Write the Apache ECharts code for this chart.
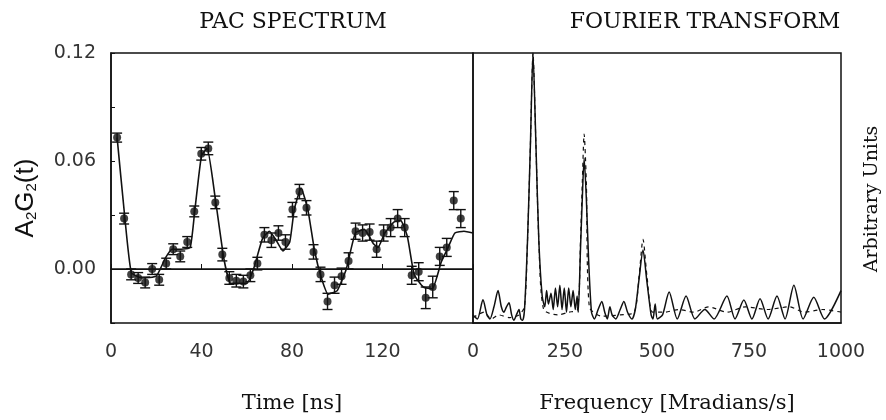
<!DOCTYPE html>
<html>
<head>
<meta charset="utf-8">
<script src="https://cdn.jsdelivr.net/npm/echarts@6/dist/echarts.min.js"></script>
<style>
  html, body { margin: 0; padding: 0; background: #fff; }
  #chart { width: 886px; height: 420px; }
</style>
</head>
<body>
<div id="chart"></div>
<script>
// PAC spectrum: measured points (time in ns) with error bars
const pacTime = [2.7, 5.8, 8.9, 12.0, 15.1, 18.2, 21.3, 24.4, 27.5, 30.6,
  33.7, 36.8, 39.9, 43.0, 46.1, 49.2, 52.3, 55.4, 58.5, 61.6,
  64.7, 67.8, 70.9, 74.0, 77.1, 80.2, 83.3, 86.4, 89.5, 92.6,
  95.7, 98.8, 101.9, 105.0, 108.1, 111.2, 114.3, 117.4, 120.5, 123.6,
  126.7, 129.8, 132.9, 136.0, 139.1, 142.2, 145.3, 148.4, 151.5, 154.6];
const pacValue = [0.073, 0.028, -0.003, -0.005, -0.0075, 0.000, -0.006, 0.003, 0.011, 0.007,
  0.015, 0.032, 0.064, 0.067, 0.037, 0.008, -0.005, -0.0065, -0.007, -0.0035,
  0.003, 0.019, 0.016, 0.020, 0.015, 0.033, 0.043, 0.034, 0.0095, -0.003,
  -0.018, -0.009, -0.004, 0.0045, 0.021, 0.020, 0.0205, 0.011, 0.020, 0.023,
  0.028, 0.023, -0.0035, -0.0015, -0.016, -0.010, 0.007, 0.012, 0.038, 0.028];
const pacError = [0.0025, 0.003, 0.003, 0.003, 0.003, 0.003, 0.003, 0.003, 0.003, 0.003,
  0.003, 0.003, 0.0035, 0.0035, 0.0035, 0.0035, 0.0035, 0.0035, 0.0035, 0.0035,
  0.0035, 0.004, 0.004, 0.004, 0.004, 0.004, 0.004, 0.004, 0.004, 0.004,
  0.0045, 0.0045, 0.0045, 0.0045, 0.0045, 0.0045, 0.0045, 0.0045, 0.0045, 0.005,
  0.005, 0.005, 0.005, 0.005, 0.006, 0.006, 0.005, 0.005, 0.005, 0.005];

// fitted curve
const fitTime = [2.7, 6, 9, 14, 20, 24, 27, 31, 35, 37, 40, 42.5, 46, 50, 53, 60, 63, 67, 70, 73,
  76, 79, 81, 84, 87, 90, 93, 96, 100, 104, 108, 112, 116, 118, 121, 125, 128, 131, 134, 138,
  142, 146, 149, 152, 156, 160];
const fitValue = [0.073, 0.03, -0.002, -0.005, -0.004, 0.006, 0.011, 0.011, 0.012, 0.032, 0.063, 0.067, 0.04, 0.005, -0.008, -0.008, 0.0, 0.017, 0.021, 0.016,
  0.01, 0.015, 0.033, 0.045, 0.033, 0.01, -0.005, -0.014, -0.012, 0.0, 0.02, 0.022, 0.014, 0.012, 0.02, 0.026, 0.027, 0.018, -0.003, -0.01,
  -0.011, 0.004, 0.012, 0.02, 0.021, 0.02];

// Fourier transform (frequency in Mradians/s, arbitrary units)
const ftFreq = [0, 12, 27, 38, 46, 57, 68, 77, 84, 91, 98, 105, 111, 118, 125, 130, 135,
  140, 148, 156, 163, 171, 179, 188,
  195, 200, 205, 212, 218, 224, 230, 236, 242, 248, 254, 260, 266, 272, 278, 283,
  286, 292, 297, 302, 308, 314, 322,
  330, 340, 350, 358, 365, 372, 378, 388, 400, 410, 420, 432,
  441, 451, 462, 472, 484,
  489, 495, 501, 515, 533, 555, 579, 603, 630, 655, 690, 712, 736, 758, 780, 802, 826, 848,
  872, 897, 926, 955, 1000];
const ftSolid = [0.03, 0.015, 0.086, 0.03, 0.015, 0.06, 0.12, 0.06, 0.04, 0.06, 0.075, 0.03, 0.01, 0.03, 0.05, 0.015, 0.01,
  0.05, 0.3, 0.66, 1.0, 0.66, 0.3, 0.1,
  0.06, 0.12, 0.07, 0.11, 0.05, 0.13, 0.06, 0.14, 0.05, 0.13, 0.04, 0.13, 0.06, 0.12, 0.05, 0.1,
  0.04, 0.27, 0.46, 0.61, 0.46, 0.24, 0.04,
  0.015, 0.05, 0.08, 0.04, 0.015, 0.06, 0.03, 0.015, 0.05, 0.08, 0.04, 0.015,
  0.05, 0.16, 0.27, 0.16, 0.03,
  0.015, 0.07, 0.015, 0.03, 0.115, 0.015, 0.10, 0.015, 0.05, 0.015, 0.10, 0.015, 0.085, 0.015, 0.09, 0.015, 0.10, 0.015,
  0.14, 0.015, 0.095, 0.015, 0.12];
const ftDashFreq = [0, 30, 50, 70, 100, 125, 140, 148, 156, 163, 171, 179, 192, 230, 260, 284,
  292, 297, 302, 308, 316, 350, 400, 438, 451, 462, 473, 488, 520, 560, 600, 640, 690, 740, 800, 860, 900, 950, 1000];
const ftDashed = [0.02, 0.04, 0.015, 0.03, 0.02, 0.03, 0.06, 0.3, 0.66, 1.0, 0.66, 0.3, 0.05, 0.03, 0.04, 0.05,
  0.3, 0.52, 0.70, 0.52, 0.06, 0.025, 0.03, 0.04, 0.17, 0.31, 0.17, 0.04, 0.04, 0.05, 0.04, 0.06, 0.04, 0.06, 0.05, 0.06, 0.04, 0.05, 0.04];

const pacPoints = pacTime.map((t, i) => [t, pacValue[i], pacError[i]]);
const fitPoints = fitTime.map((t, i) => [t, fitValue[i]]);
const solidPoints = ftFreq.map((f, i) => [f, ftSolid[i]]);
const dashPoints = ftDashFreq.map((f, i) => [f, ftDashed[i]]);

const serif = "'DejaVu Serif', 'Liberation Serif', serif";
const sans = "'DejaVu Sans', 'Liberation Sans', sans-serif";
const black = '#111';

const chart = echarts.init(document.getElementById('chart'));

chart.setOption({
  backgroundColor: '#fff',
  animation: false,
  title: [
    { text: 'PAC SPECTRUM', left: 288, top: 6, textAlign: 'center',
      textStyle: { fontFamily: serif, fontWeight: 'normal', fontSize: 22, color: black } },
    { text: 'FOURIER TRANSFORM', left: 700, top: 6, textAlign: 'center',
      textStyle: { fontFamily: serif, fontWeight: 'normal', fontSize: 22, color: black } }
  ],
  grid: [
    { left: 111, top: 53, width: 362, height: 270, show: true, borderColor: black, borderWidth: 1.5 },
    { left: 473, top: 53, width: 368, height: 270, show: true, borderColor: black, borderWidth: 1.5 }
  ],
  xAxis: [
    {
      type: 'value', gridIndex: 0, min: 0, max: 160, interval: 40,
      name: 'Time [ns]', nameLocation: 'middle', nameGap: 70,
      nameTextStyle: { fontFamily: serif, fontSize: 21, color: black },
      axisLine: { lineStyle: { color: black, width: 1.5 } },
      axisTick: { inside: true, length: 5, lineStyle: { color: black } },
      axisLabel: { margin: 20, fontFamily: sans, fontSize: 19, color: '#333',
        formatter: v => (v === 160 ? '' : String(v)) },
      splitLine: { show: false }
    },
    {
      type: 'value', gridIndex: 1, min: 0, max: 1000, interval: 250,
      name: 'Frequency [Mradians/s]', nameLocation: 'middle', nameGap: 70,
      nameTextStyle: { fontFamily: serif, fontSize: 21, color: black, padding: [0, 0, 0, 20] },
      axisLine: { lineStyle: { color: black, width: 1.5 } },
      axisTick: { show: false },
      axisLabel: { margin: 20, fontFamily: sans, fontSize: 19, color: '#333',
        formatter: v => String(v) },
      splitLine: { show: false }
    }
  ],
  yAxis: [
    {
      type: 'value', gridIndex: 0, min: -0.03, max: 0.12, interval: 0.03,
      name: '{a|A}{s|2}{a|G}{s|2}{a|(t)}', nameLocation: 'middle', nameGap: 72,
      nameTextStyle: {
        padding: [0, 20, 0, 0],
        rich: {
          a: { fontFamily: "'Liberation Sans', sans-serif", fontSize: 26, color: black },
          s: { fontFamily: "'Liberation Sans', sans-serif", fontSize: 15, color: black, verticalAlign: 'bottom', padding: [12, 0, 0, 0] }
        }
      },
      axisLine: { lineStyle: { color: black, width: 1.5 } },
      axisTick: { inside: true, length: 4, lineStyle: { color: black } },
      axisLabel: { margin: 15, fontFamily: sans, fontSize: 19, color: '#333',
        formatter: v => {
          const r = Math.round(v * 100);
          return (r === 0 || r === 6 || r === 12) ? v.toFixed(2) : '';
        } },
      splitLine: { show: false }
    },
    {
      type: 'value', gridIndex: 1, min: 0, max: 1, position: 'right',
      name: 'Arbitrary Units', nameLocation: 'middle', nameGap: 22, nameRotate: 90,
      nameTextStyle: { fontFamily: serif, fontSize: 19, color: black, padding: [0, 22, 0, 0] },
      axisLine: { show: false },
      axisTick: { show: false },
      axisLabel: { show: false },
      splitLine: { show: false }
    }
  ],
  series: [
    {
      name: 'fit', type: 'line', xAxisIndex: 0, yAxisIndex: 0,
      data: fitPoints, showSymbol: false, smooth: 0.15,
      lineStyle: { color: black, width: 1.6 },
      markLine: {
        silent: true, symbol: 'none', label: { show: false },
        lineStyle: { color: black, width: 1.2, type: 'solid' },
        data: [{ yAxis: 0 }]
      }
    },
    {
      name: 'error', type: 'custom', xAxisIndex: 0, yAxisIndex: 0,
      data: pacPoints,
      encode: { x: 0, y: 1 },
      renderItem: (params, api) => {
        const x = api.value(0), y = api.value(1), e = api.value(2);
        const lo = api.coord([x, y - e]);
        const hi = api.coord([x, y + e]);
        const style = { stroke: black, lineWidth: 1.4 };
        return {
          type: 'group',
          children: [
            { type: 'line', shape: { x1: lo[0], y1: lo[1], x2: hi[0], y2: hi[1] }, style },
            { type: 'line', shape: { x1: hi[0] - 5, y1: hi[1], x2: hi[0] + 5, y2: hi[1] }, style },
            { type: 'line', shape: { x1: lo[0] - 5, y1: lo[1], x2: lo[0] + 5, y2: lo[1] }, style }
          ]
        };
      },
      z: 3
    },
    {
      name: 'data', type: 'scatter', xAxisIndex: 0, yAxisIndex: 0,
      data: pacPoints.map(p => [p[0], p[1]]),
      symbol: 'circle', symbolSize: 8,
      itemStyle: { color: black },
      z: 4
    },
    {
      name: 'FT', type: 'line', xAxisIndex: 1, yAxisIndex: 1,
      data: solidPoints, showSymbol: false, smooth: 0.25,
      lineStyle: { color: black, width: 1.5 }
    },
    {
      name: 'FT fit', type: 'line', xAxisIndex: 1, yAxisIndex: 1,
      data: dashPoints, showSymbol: false, smooth: 0.25,
      lineStyle: { color: black, width: 1.2, type: [4, 4] }
    }
  ]
});
</script>
</body>
</html>
